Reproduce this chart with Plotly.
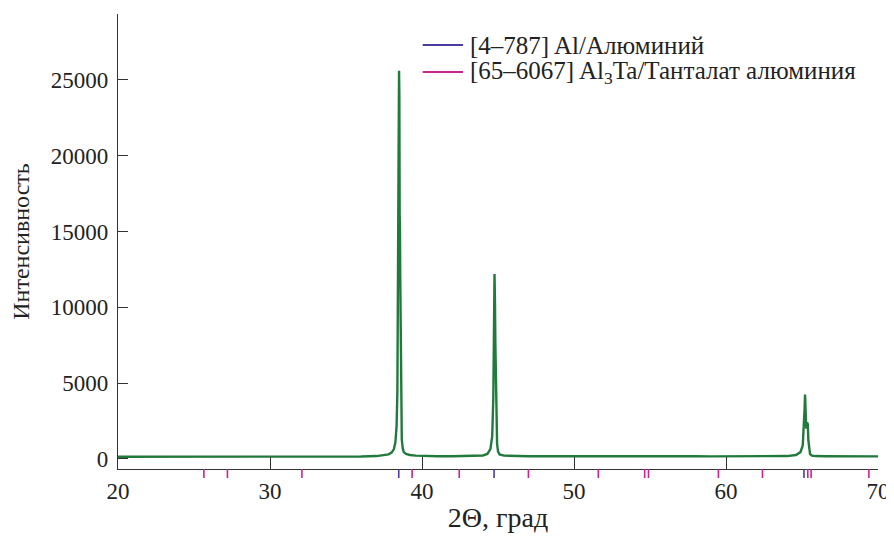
import plotly.graph_objects as go

# XRD pattern (2theta, intensity)
two_theta = [20, 22, 24, 26, 28, 30, 32, 34, 36, 37, 37.5, 37.8, 38.0, 38.15, 38.25, 38.33,
             38.38, 38.42, 38.44, 38.46, 38.49, 38.51, 38.53, 38.55, 38.57, 38.6, 38.63, 38.67,
             38.73, 38.8, 38.95, 39.2, 39.6, 40, 41, 42, 43, 44, 44.3, 44.5, 44.62, 44.69,
             44.73, 44.77, 44.8, 44.83, 44.86, 44.9, 44.94, 45.0, 45.1, 45.4, 46, 47, 48, 49,
             50, 51, 52, 53, 54, 55, 56, 57, 58, 59, 60, 61, 62, 63, 64, 64.6, 64.9, 65.05,
             65.12, 65.17, 65.2, 65.23, 65.28, 65.33, 65.38, 65.42, 65.47, 65.53, 65.65, 65.9,
             66.5, 68, 70]
intensity = [140, 140, 135, 140, 135, 140, 140, 145, 160, 190, 230, 300, 420, 650, 1100, 2200,
             4500, 9500, 14700, 20000, 25600, 24000, 16000, 15300, 12000, 6000, 2800, 1300,
             700, 450, 330, 260, 220, 200, 180, 175, 185, 230, 330, 650, 1500, 4000,
             8000, 12200, 10500, 7400, 5000, 2200, 1000, 500, 300, 220, 190, 180, 175, 180,
             175, 185, 170, 190, 170, 185, 175, 180, 175, 170, 170, 175, 170, 175, 190, 260,
             450, 900, 2000, 3300, 4250, 3000, 2000, 2400, 2300, 1200, 600, 320, 220, 190,
             180, 170, 170]

# Reference card positions (2theta)
al_lines = [38.47, 44.74, 65.13]
al3ta_lines = [25.65, 27.2, 32.1, 39.35, 42.45, 47.0, 51.6, 54.65, 54.9, 59.5, 62.4,
               65.38, 65.6, 69.4]

x_ticks = [20, 30, 40, 50, 60, 70]
y_ticks = [0, 5000, 10000, 15000, 20000, 25000]
y_tick_text = ["0", "5000", "10000", "15000", "20000", "25000"]

legend_names = ["[4–787] Al/Алюминий", "[65–6067] Al<sub>3</sub>Ta/Танталат алюминия"]
legend_colors = ["#4b3c9e", "#c8238f"]

FONT = "Liberation Serif"


def sticks(xs):
    xx, yy = [], []
    for v in xs:
        xx += [v, v, None]
        yy += [0, 1, None]
    return xx, yy


fig = go.Figure()
fig.add_trace(go.Scatter(x=two_theta, y=intensity, mode="lines",
                         line=dict(color="#217a3c", width=2.4), showlegend=False))

for xs, name, col in zip([al_lines, al3ta_lines], legend_names, legend_colors):
    sx, sy = sticks(xs)
    fig.add_trace(go.Scatter(x=sx, y=sy, mode="lines", yaxis="y2", name=name,
                             line=dict(color=col, width=1.6), showlegend=False))

# hand-placed legend (longer key lines, as in the reference)
legend_y = [0.933, 0.875]
for name, col, ly in zip(legend_names, legend_colors, legend_y):
    fig.add_shape(type="line", xref="paper", yref="paper", x0=0.401, x1=0.454,
                  y0=ly, y1=ly, line=dict(color=col, width=2))
    fig.add_annotation(xref="paper", yref="paper", x=0.461, y=ly, text=name,
                       showarrow=False, xanchor="left", yanchor="middle",
                       font=dict(size=25, family=FONT, color="#222"))

# page body has an 8px margin, so the figure is drawn 8px smaller and shifted
fig.update_layout(
    width=886, height=528,
    margin=dict(l=110, r=16, t=6, b=58),
    plot_bgcolor="white", paper_bgcolor="white",
    font=dict(family=FONT, size=23, color="#222"),
    showlegend=False,
    xaxis=dict(range=[20, 70], tickvals=x_ticks, ticks="inside", ticklen=12,
               tickcolor="#333", showline=True, linecolor="#333", linewidth=1.2,
               showgrid=False, zeroline=False, anchor="y", ticklabelstandoff=1,
               automargin=False,
               title=dict(text="2Θ, град", standoff=4)),
    yaxis=dict(domain=[0.0195, 1], range=[-660, 29350], tickvals=y_ticks,
               ticktext=y_tick_text, ticks="inside",
               ticklen=10, tickcolor="#333", showline=True, linecolor="#333",
               linewidth=1.2, showgrid=False, zeroline=False, automargin=False,
               ticklabelstandoff=4,
               title=dict(text="Интенсивность", standoff=16, font=dict(size=24))),
    yaxis2=dict(domain=[0, 0.0195], range=[0, 1], visible=False, anchor="x"),
)

fig.write_html("out.html")
